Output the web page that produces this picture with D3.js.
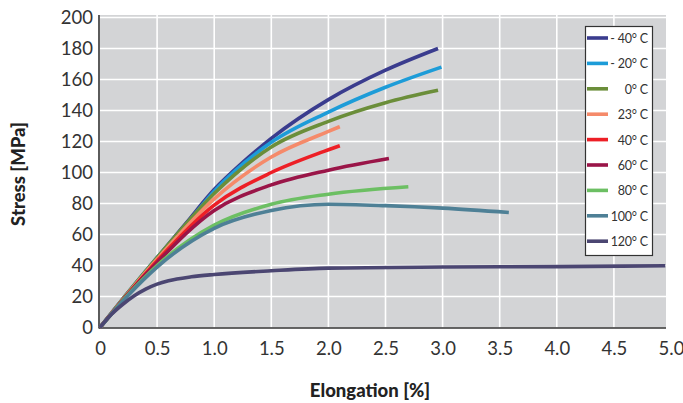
<!DOCTYPE html>
<html>
<head>
<meta charset="utf-8">
<script src="https://cdn.jsdelivr.net/npm/d3@7"></script>
<style>
  html, body { margin: 0; padding: 0; background: #ffffff; }
  svg { display: block; }
</style>
</head>
<body>
<svg id="chart" width="683" height="403"></svg>
<script>
// ---------- DATA ----------
const seriesLabels = ["- 40", "- 20", "0", "23", "40", "60", "80", "100", "120"];
const seriesColors = ["#3a3c8e", "#1d9cd8", "#6b8e3a", "#f58a6a", "#ed1f26", "#9a1548", "#6cbf63", "#4e8096", "#4b4672"];

const sM40 = [[0,0],[0.25,23],[0.5,45],[0.75,67],[1.0,89],[1.25,106.5],[1.5,122],[2.0,147],[2.5,166],[2.96,180]];
const sM20 = [[0,0],[0.25,23],[0.5,45],[0.75,66],[1.0,88],[1.5,119.5],[2.0,139],[2.5,155],[2.99,168]];
const s0   = [[0,0],[0.25,23],[0.5,45],[1.0,86.5],[1.5,116.5],[2.0,133],[2.5,145],[2.96,153]];
const s23  = [[0,0],[0.25,22.5],[0.5,44],[1.0,83],[1.5,110],[2.0,126.5],[2.1,129.6]];
const s40  = [[0,0],[0.25,22],[0.5,43],[1.0,79],[1.5,100],[1.93,112.8],[2.1,117.3]];
const s60  = [[0,0],[0.25,22],[0.5,42],[1.0,75.5],[1.5,92],[2.0,101.5],[2.53,109]];
const s80  = [[0,0],[0.25,21.5],[0.5,40],[1.0,66],[1.5,79.5],[2.0,86],[2.7,90.8]];
const s100 = [[0,0],[0.25,21],[0.5,39],[1.0,64],[1.5,75.5],[2.0,79.5],[2.5,78.6],[3.0,77],[3.58,74.2]];
const s120 = [[0,0],[0.1,8.5],[0.2,15],[0.3,20.5],[0.4,24.8],[0.5,28],[0.6,30.2],[0.8,32.7],[1.0,34.2],[1.5,36.6],[2.0,38.3],[3.0,39],[4.0,39.3],[4.95,39.8]];
const seriesData = [sM40, sM20, s0, s23, s40, s60, s80, s100, s120];

const xTicks = [0, 0.5, 1.0, 1.5, 2.0, 2.5, 3.0, 3.5, 4.0, 4.5, 5.0];
const yTicks = [0, 20, 40, 60, 80, 100, 120, 140, 160, 180, 200];
const xTitle = "Elongation [%]";
const yTitle = "Stress [MPa]";

// ---------- LAYOUT ----------
const svg = d3.select("#chart");
const x = d3.scaleLinear().domain([0, 5]).range([100, 671]);
const y = d3.scaleLinear().domain([0, 200]).range([327.5, 17.5]);
const plotRight = 666, plotTop = 15;
const font = "Lato, 'Open Sans', sans-serif";

// background
svg.append("rect")
  .attr("x", x(0)).attr("y", plotTop)
  .attr("width", plotRight - x(0)).attr("height", y(0) - plotTop)
  .attr("fill", "#d3d4d6");

// grid
svg.append("g").selectAll("line").data(xTicks.filter(d => d > 0 && d < 5)).join("line")
  .attr("x1", d => x(d)).attr("x2", d => x(d))
  .attr("y1", plotTop).attr("y2", y(0))
  .attr("stroke", "#ffffff").attr("stroke-width", 1.6);
svg.append("g").selectAll("line").data(yTicks.filter(d => d > 0)).join("line")
  .attr("x1", x(0)).attr("x2", plotRight)
  .attr("y1", d => y(d)).attr("y2", d => y(d))
  .attr("stroke", "#ffffff").attr("stroke-width", 1.6);

// axes
const xAxis = d3.axisBottom(x).tickValues(xTicks)
  .tickFormat(d => d === 0 ? "0" : d3.format(".1f")(d)).tickSize(0).tickPadding(14);
const gx = svg.append("g").attr("transform", `translate(0,${y(0)})`).call(xAxis);
gx.select(".domain").remove();
gx.selectAll("text").attr("font-family", font).attr("font-size", 18.5).attr("fill", "#333");

const yAxis = d3.axisLeft(y).tickValues(yTicks).tickSize(0).tickPadding(7);
const gy = svg.append("g").attr("transform", `translate(${x(0)},0)`).call(yAxis);
gy.select(".domain").remove();
gy.selectAll("text").attr("font-family", font).attr("font-size", 18.5).attr("fill", "#333");

svg.append("line").attr("x1", x(0) - 1).attr("x2", x(0) - 1).attr("y1", plotTop).attr("y2", y(0) + 1)
  .attr("stroke", "#333").attr("stroke-width", 1.6);
svg.append("line").attr("x1", x(0) - 1).attr("x2", plotRight).attr("y1", y(0) + 0.5).attr("y2", y(0) + 0.5)
  .attr("stroke", "#333").attr("stroke-width", 1.6);

// lines
const line = d3.line().x(d => x(d[0])).y(d => y(d[1])).curve(d3.curveMonotoneX);
svg.append("g").selectAll("path").data(seriesData).join("path")
  .attr("d", d => line(d))
  .attr("fill", "none")
  .attr("stroke", (d, i) => seriesColors[i])
  .attr("stroke-width", 3.6)
  .attr("stroke-linecap", "butt");

// titles
svg.append("text").attr("x", 370).attr("y", 397).attr("text-anchor", "middle")
  .attr("font-family", font).attr("font-weight", 900).attr("font-size", 18.5).attr("fill", "#222")
  .text(xTitle);
svg.append("text").attr("transform", "translate(25,174) rotate(-90)").attr("text-anchor", "middle")
  .attr("font-family", font).attr("font-weight", 900).attr("font-size", 18.5).attr("fill", "#222")
  .text(yTitle);

// legend
const lg = svg.append("g");
lg.append("rect").attr("x", 585.5).attr("y", 26.5).attr("width", 67).attr("height", 229)
  .attr("fill", "#ffffff").attr("stroke", "#333").attr("stroke-width", 1.2);
const items = lg.selectAll("g.item").data(seriesLabels).join("g").attr("class", "item")
  .attr("transform", (d, i) => `translate(0,${38 + i * 25.4})`);
items.append("line").attr("x1", 587).attr("x2", 608).attr("y1", 0).attr("y2", 0)
  .attr("stroke", (d, i) => seriesColors[i]).attr("stroke-width", 3.6);
items.append("text").attr("x", 648).attr("y", 5).attr("text-anchor", "end")
  .attr("font-family", font).attr("font-size", 12.5).attr("letter-spacing", -0.2).attr("fill", "#333")
  .text(d => d + "° C");
</script>
</body>
</html>
